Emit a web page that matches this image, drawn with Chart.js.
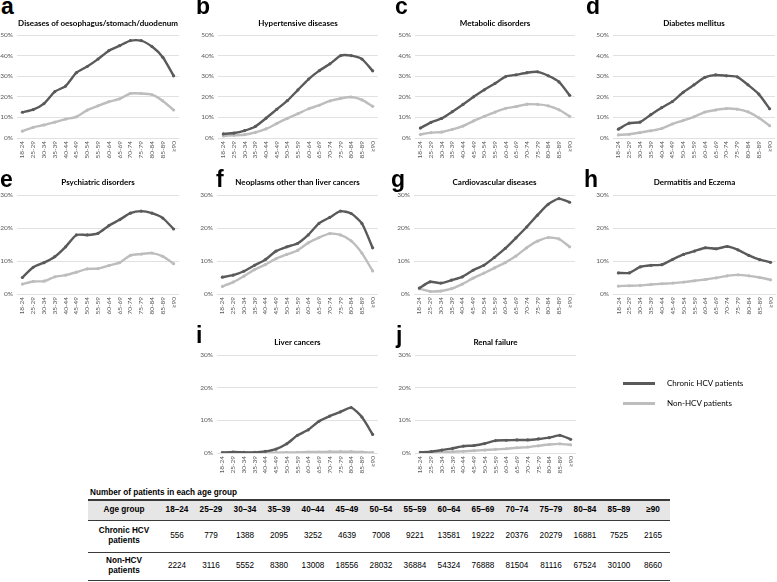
<!DOCTYPE html>
<html><head><meta charset="utf-8">
<script src="https://cdn.jsdelivr.net/npm/chart.js@4/dist/chart.umd.min.js"></script>
<style>
body{margin:0;width:777px;height:582px;background:#fff;position:relative;overflow:hidden;font-family:'Liberation Sans',Arial,sans-serif;}
.panel{position:absolute}
.letter{position:absolute;font:bold 23px 'Liberation Sans',Arial,sans-serif;line-height:22px;color:#000}
.ptitle{position:absolute;font:bold 8px Lato,sans-serif;line-height:10px;text-align:center;color:#000;white-space:nowrap}
.legline{position:absolute;height:3px;width:32px}
.legtxt{position:absolute;font:8px Lato,sans-serif;line-height:10px;color:#000;white-space:nowrap}
#ttl{position:absolute;left:90px;top:488px;font:bold 8.2px 'Liberation Sans',Arial,sans-serif;line-height:10px;white-space:nowrap;color:#000}
#tbl{position:absolute;left:88px;top:499px;width:582px;border-collapse:collapse;table-layout:fixed;font-family:'Liberation Sans',Arial,sans-serif;font-size:8.2px;color:#000}
#tbl td{text-align:center;padding:0;line-height:10px}
#tbl tr.h{background:#e7e6e6;height:20px;border-top:2px solid #3a3a3a;border-bottom:1px solid #3a3a3a;font-weight:bold}
#tbl tr.r1{height:32px;border-bottom:1.5px solid #3a3a3a}
#tbl tr.r2{height:28px;border-bottom:1.5px solid #3a3a3a}
#tbl td.lab{font-weight:bold}
</style></head>
<body>
<script>
const ageGroups = ['18-24','25-29','30-34','35-39','40-44','45-49','50-54','55-59','60-64','65-69','70-74','75-79','80-84','85-89','≥90'];

const oesoHCV = [12.5,13.8,16.7,22.5,25.2,31.7,34.7,38.3,42.4,44.8,47.3,47.3,44.4,39.2,30.2];
const oesoNon = [3.3,5.2,6.3,7.7,9.2,10.3,13.5,15.6,17.6,19.0,21.6,21.6,21.0,18.0,13.6];
const hyperHCV = [2.0,2.4,3.6,5.6,9.6,13.9,18.1,23.4,28.6,32.7,36.0,40.0,40.0,38.3,32.6];
const hyperNon = [1.0,1.3,1.6,2.7,4.4,7.0,9.5,11.8,14.2,15.9,18.0,19.2,19.9,18.5,15.4];
const metaHCV = [4.8,7.6,9.5,12.8,16.3,20.0,23.4,26.5,29.8,30.7,31.7,32.1,30.2,27.2,20.7];
const metaNon = [1.7,2.6,2.9,4.2,5.8,8.3,10.5,12.6,14.4,15.3,16.4,16.3,15.6,13.7,10.5];
const diabHCV = [4.3,7.2,7.7,11.3,14.7,17.7,22.2,25.8,29.4,30.6,30.2,29.7,25.8,21.3,14.2];
const diabNon = [1.5,1.8,2.6,3.5,4.6,6.8,8.5,10.3,12.6,13.6,14.3,14.0,12.7,9.8,6.0];
const psychHCV = [5.0,8.1,9.5,11.3,14.3,17.9,17.9,18.4,20.7,22.5,24.5,25.1,24.5,23.0,19.7];
const psychNon = [3.0,3.8,3.9,5.2,5.7,6.6,7.6,7.7,8.6,9.5,11.7,12.1,12.4,11.4,9.2];
const neoHCV = [5.1,5.7,6.9,8.7,10.4,13.0,14.3,15.3,17.9,21.4,23.2,25.1,24.4,21.4,14.0];
const neoNon = [2.3,3.6,5.4,7.4,8.9,10.7,12.0,13.2,15.5,17.1,18.3,17.9,16.1,12.4,7.0];
const cardioHCV = [1.8,3.7,3.3,4.2,5.2,7.2,8.7,11.1,13.8,17.0,20.3,23.9,27.2,28.9,27.8];
const cardioNon = [1.6,0.8,0.9,1.6,3.0,4.8,6.3,7.9,9.5,11.5,14.0,16.0,17.1,16.7,14.3];
const dermHCV = [6.4,6.4,8.2,8.7,8.9,10.5,12.0,13.0,14.0,13.7,14.4,13.4,11.7,10.4,9.6];
const dermNon = [2.4,2.5,2.6,2.9,3.1,3.3,3.6,4.0,4.4,4.9,5.5,5.8,5.5,5.0,4.3];
const liverHCV = [0.1,0.3,0.2,0.2,0.5,1.2,2.8,5.4,7.1,9.7,11.3,12.6,13.9,11.0,5.7];
const liverNon = [0.1,0.1,0.1,0.1,0.1,0.1,0.2,0.2,0.3,0.3,0.4,0.4,0.4,0.3,0.1];
const renalHCV = [0.2,0.4,0.9,1.4,2.1,2.3,2.9,3.8,3.9,4.0,4.0,4.3,4.7,5.4,4.2];
const renalNon = [0.1,0.2,0.3,0.4,0.5,0.7,0.9,1.1,1.3,1.6,1.8,2.2,2.6,2.8,2.5];

const seriesNames = ['Chronic HCV patients','Non-HCV patients'];
const tableRowLabels = ['Chronic HCV<br>patients','Non-HCV<br>patients'];
const patientsHCV = [556,779,1388,2095,3252,4639,7008,9221,13581,19222,20376,20279,16881,7525,2165];
const patientsNon = [2224,3116,5552,8380,13008,18556,28032,36884,54324,76888,81504,81116,67524,30100,8660];

const DARK = '#5a5a5a', LIGHT = '#bdbdbd';

const panels = [
  {l:'a', t:'Diseases of oesophagus/stomach/duodenum', h:oesoHCV, n:oesoNon, max:50, box:[17,179,35,138], lp:[1,-5], ty:18},
  {l:'b', t:'Hypertensive diseases', h:hyperHCV, n:hyperNon, max:50, box:[218,378,35,138], lp:[196,-5], ty:18},
  {l:'c', t:'Metabolic disorders', h:metaHCV, n:metaNon, max:50, box:[415,575,35,138], lp:[395,-5], ty:18},
  {l:'d', t:'Diabetes mellitus', h:diabHCV, n:diabNon, max:50, box:[613,775,35,138], lp:[586,-5], ty:18},
  {l:'e', t:'Psychiatric disorders', h:psychHCV, n:psychNon, max:30, box:[17,179,195,294], lp:[0,168], ty:177},
  {l:'f', t:'Neoplasms other than liver cancers', h:neoHCV, n:neoNon, max:30, box:[217,378,195,294], lp:[216,168], ty:177},
  {l:'g', t:'Cardiovascular diseases', h:cardioHCV, n:cardioNon, max:30, box:[414,575,195,294], lp:[391,168], ty:177},
  {l:'h', t:'Dermatitis and Eczema', h:dermHCV, n:dermNon, max:30, box:[613,776,195,294], lp:[584,168], ty:177},
  {l:'i', t:'Liver cancers', h:liverHCV, n:liverNon, max:30, box:[217,378,355,453], lp:[196,324], ty:337},
  {l:'j', t:'Renal failure', h:renalHCV, n:renalNon, max:30, box:[415,576,355,453], lp:[396,324], ty:337}
];

function makePanel(p){
  const [L,R,T,B] = p.box;
  const yw=22, pt=8, pr=3, xh=26;
  const div = document.createElement('div');
  div.className='panel';
  const w = R-L+yw+pr, h = B-T+pt+xh;
  Object.assign(div.style,{left:(L-yw)+'px',top:(T-pt)+'px',width:w+'px',height:h+'px'});
  const cv = document.createElement('canvas');
  div.appendChild(cv); document.body.appendChild(div);

  const let_ = document.createElement('div');
  let_.className='letter'; let_.textContent=p.l;
  let_.style.left=p.lp[0]+'px'; let_.style.top=p.lp[1]+'px';
  document.body.appendChild(let_);

  const tt = document.createElement('div');
  tt.className='ptitle'; tt.textContent=p.t;
  Object.assign(tt.style,{left:L+'px',width:(R-L)+'px',top:p.ty+'px'});
  document.body.appendChild(tt);

  const ds = (label,data,col)=>({label,data,borderColor:col,backgroundColor:col,pointBackgroundColor:col,pointBorderColor:col,
    borderWidth:2.4,pointRadius:1.6,pointBorderWidth:0,pointHoverRadius:0,tension:0.2});
  new Chart(cv,{type:'line',
    data:{labels:ageGroups,datasets:[ds(seriesNames[0],p.h,DARK),ds(seriesNames[1],p.n,LIGHT)]},
    options:{responsive:true,maintainAspectRatio:false,animation:false,events:[],
      layout:{padding:{top:pt,right:pr,left:0,bottom:0}},
      plugins:{legend:{display:false},tooltip:{enabled:false}},
      scales:{
        x:{offset:true,grid:{display:false,drawTicks:false},border:{display:false},
          ticks:{autoSkip:false,maxRotation:90,minRotation:90,font:{size:6.5,family:'Lato'},color:'#595959',padding:3},
          afterFit(s){s.height=xh;s.paddingLeft=0;s.paddingRight=0;}},
        y:{min:0,max:p.max,border:{display:false},
          grid:{color:'#d9d9d9',drawTicks:false,lineWidth:0.8},
          ticks:{stepSize:10,callback:v=>v+'%',font:{size:6.5,family:'Lato'},color:'#595959',padding:4},
          afterFit(s){s.width=yw;s.paddingTop=0;s.paddingBottom=0;}}
      }}});
}
panels.forEach(makePanel);

// legend
[[DARK,383],[LIGHT,403]].forEach(([c,y],i)=>{
  const ln=document.createElement('div'); ln.className='legline';
  Object.assign(ln.style,{left:'623px',top:(y-1)+'px',background:c});
  document.body.appendChild(ln);
  const tx=document.createElement('div'); tx.className='legtxt'; tx.textContent=seriesNames[i];
  Object.assign(tx.style,{left:'667px',top:(y-5)+'px'});
  document.body.appendChild(tx);
});

// table
const ttl=document.createElement('div'); ttl.id='ttl'; ttl.textContent='Number of patients in each age group';
document.body.appendChild(ttl);
const tbl=document.createElement('table'); tbl.id='tbl';
let html='<colgroup><col style="width:72px">'+ageGroups.map(()=>'<col>').join('')+'</colgroup>';
html+='<tr class="h"><td>Age group</td>'+ageGroups.map(a=>'<td>'+a.replace('-','–')+'</td>').join('')+'</tr>';
html+='<tr class="r1"><td class="lab">'+tableRowLabels[0]+'</td>'+patientsHCV.map(v=>'<td>'+v+'</td>').join('')+'</tr>';
html+='<tr class="r2"><td class="lab">'+tableRowLabels[1]+'</td>'+patientsNon.map(v=>'<td>'+v+'</td>').join('')+'</tr>';
tbl.innerHTML=html;
document.body.appendChild(tbl);
</script>
</body></html>
